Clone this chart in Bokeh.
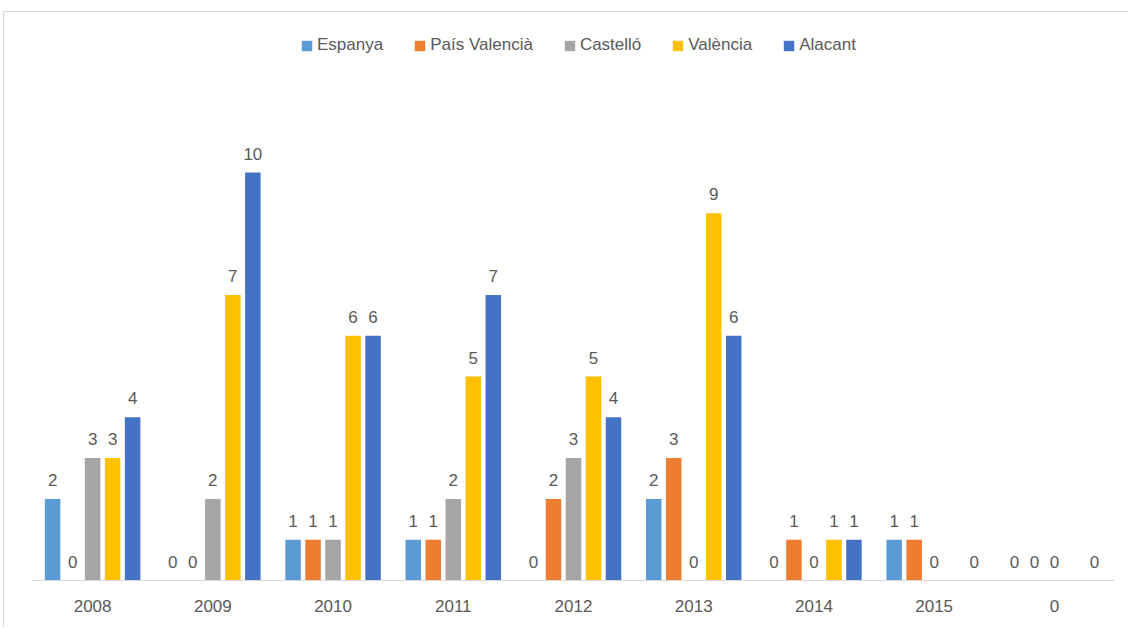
from bokeh.plotting import figure
from bokeh.models import ColumnDataSource, FactorRange, Legend, LegendItem, LabelSet
from bokeh.core.properties import value
from bokeh.transform import dodge
from bokeh.embed import file_html
from bokeh.resources import INLINE

categories = ["2008", "2009", "2010", "2011", "2012", "2013", "2014", "2015", "0"]
series_names = ["Espanya", "País Valencià", "Castelló", "València", "Alacant"]
espanya = [2, 0, 1, 1, 0, 2, 0, 1, 0]
pais_valencia = [0, 0, 1, 1, 2, 3, 1, 1, 0]
castello = [3, 2, 1, 2, 3, 0, 0, 0, 0]
valencia = [3, 7, 6, 5, 5, 9, 1, None, None]
alacant = [4, 10, 6, 7, 4, 6, 1, 0, 0]
colors = ["#5B9BD5", "#ED7D31", "#A5A5A5", "#FFC000", "#4472C4"]

all_values = [espanya, pais_valencia, castello, valencia, alacant]

W, H = 1125, 616
px_per_unit = 40.8
frame_h = 560
p = figure(x_range=FactorRange(*categories), y_range=(0, frame_h / px_per_unit),
           width=W, height=H, output_backend="svg", toolbar_location=None,
           min_border_left=28, min_border_right=15, min_border_top=8,
           min_border_bottom=48)
p.outline_line_color = None
p.xgrid.grid_line_color = None
p.ygrid.grid_line_color = None
p.yaxis.visible = False
p.xaxis.axis_line_color = "#D9D9D9"
p.xaxis.major_tick_line_color = None
p.xaxis.minor_tick_line_color = None
p.xaxis.major_label_text_font = "Liberation Sans"
p.xaxis.major_label_text_font_size = "17px"
p.xaxis.major_label_text_color = "#595959"
p.xaxis.major_label_standoff = 13
p.styles = {"margin-top": "11px", "margin-left": "3px",
            "border-top": "1px solid #D9D9D9", "border-left": "1px solid #D9D9D9"}

step = 20 / 120.2
bw = 15.5 / 120.2
items = []
for i, (name, vals, col) in enumerate(zip(series_names, all_values, colors)):
    xs = [c for c, v in zip(categories, vals) if v is not None]
    ys = [v for v in vals if v is not None]
    src = ColumnDataSource(dict(x=xs, y=ys, lbl=[str(v) for v in ys]))
    off = (i - 2) * step
    r = p.vbar(x=dodge("x", off, range=p.x_range), top="y", width=bw, source=src,
               fill_color=col, line_color=None)
    labels = LabelSet(x=dodge("x", off, range=p.x_range), y="y", text="lbl", source=src,
                      text_align="center", text_baseline="bottom", y_offset=13,
                      text_font=value("Liberation Sans"), text_font_size="17px",
                      text_color="#595959")
    p.add_layout(labels)
    items.append(LegendItem(label=name, renderers=[r]))

legend = Legend(items=items, orientation="horizontal", location=(268, 525),
                label_text_font="Liberation Sans", label_text_font_size="17px",
                label_text_color="#595959", glyph_width=13, glyph_height=13,
                label_standoff=4, spacing=30, padding=0, margin=0,
                border_line_color=None, background_fill_alpha=0)
p.add_layout(legend)

open("out.html", "w").write(file_html(p, INLINE))
